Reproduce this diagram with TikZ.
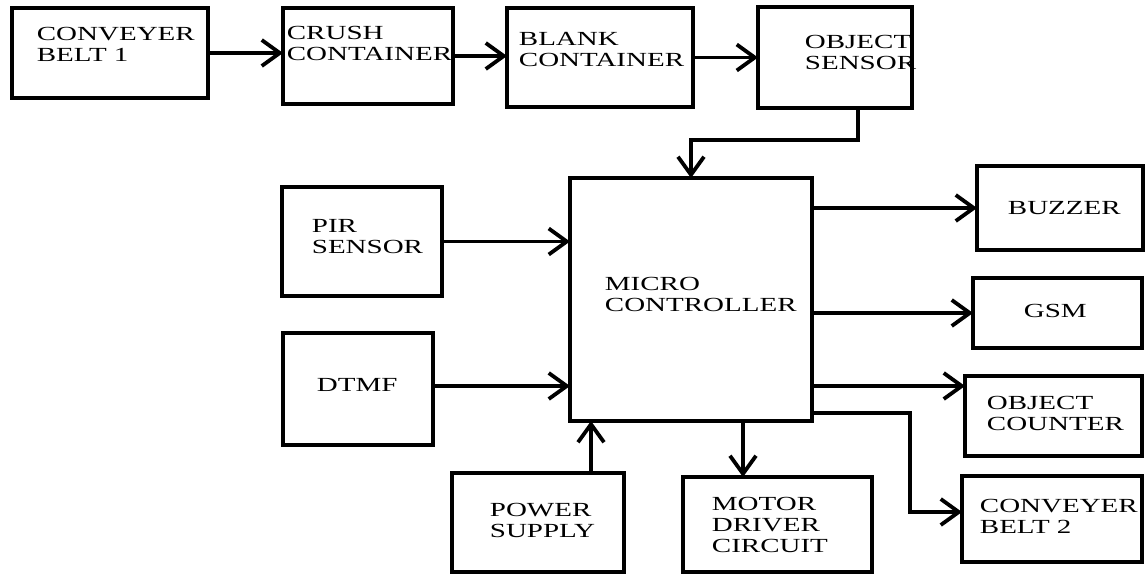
\documentclass[tikz,border=0pt]{standalone}
\usepackage{fontspec}
\setmainfont{Liberation Serif}[FakeStretch=1.45]
\usetikzlibrary{arrows.meta}

\begin{document}
\begin{tikzpicture}[x=1pt, y=-1pt, line width=3.8pt, >={Straight Barb[length=18pt, width=26pt]},
    blk/.style={draw, inner sep=0pt, outer sep=0pt},
    txt/.style={inner sep=0pt, anchor=base west, align=left, font=\fontsize{20}{21}\selectfont}]
    \useasboundingbox (0,0) rectangle (1145,574);
    \node[blk, minimum width=196, minimum height=90] (cbone) at (110,53) {};
    \node[blk, minimum width=170, minimum height=96] (crush) at (368,56) {};
    \node[blk, minimum width=186, minimum height=99] (blank) at (600,57.5) {};
    \node[blk, minimum width=154, minimum height=101] (objsen) at (835,57.5) {};
    \node[blk, minimum width=242, minimum height=243] (mcu) at (691,299.5) {};
    \node[blk, minimum width=160, minimum height=109] (pir) at (362,241.5) {};
    \node[blk, minimum width=150, minimum height=112] (dtmf) at (358,389) {};
    \node[blk, minimum width=172, minimum height=99] (power) at (538,522.5) {};
    \node[blk, minimum width=189, minimum height=95] (motor) at (777.5,524.5) {};
    \node[blk, minimum width=166, minimum height=84] (buzzer) at (1060,208) {};
    \node[blk, minimum width=169, minimum height=70] (gsm) at (1057.5,313) {};
    \node[blk, minimum width=177, minimum height=80] (ocount) at (1053.5,416) {};
    \node[blk, minimum width=180, minimum height=86] (cbtwo) at (1052,519) {};

    \node[txt] (cbonetxt) at (35,61) {CONVEYER\\BELT 1};
    \node[txt] (crushtxt) at (285,60) {CRUSH\\CONTAINER};
    \node[txt] (blanktxt) at (517,66) {BLANK\\CONTAINER};
    \node[txt] (objsentxt) at (803,69) {OBJECT\\SENSOR};
    \node[txt] (mcutxt) at (603,311) {MICRO\\CONTROLLER};
    \node[txt] (pirtxt) at (310,253) {PIR\\SENSOR};
    \node[txt] (dtmftxt) at (315,391) {DTMF};
    \node[txt] (powertxt) at (488,537) {POWER\\SUPPLY};
    \node[txt] (motortxt) at (710,552) {MOTOR\\DRIVER\\CIRCUIT};
    \node[txt] (buzzertxt) at (1006,214) {BUZZER};
    \node[txt] (gsmtxt) at (1022,317) {GSM};
    \node[txt] (ocounttxt) at (985,430) {OBJECT\\COUNTER};
    \node[txt] (cbtwotxt) at (978,533) {CONVEYER\\BELT 2};

    \draw[->] (cbone.east) -- (cbone.east -| crush.west);
    \draw[->] (crush.east) -- (crush.east -| blank.west);
    \draw[->] (blank.east) -- (blank.east -| objsen.west);
    \draw[->] ([xshift=23pt]objsen.south) -- ++(0,32) -| (mcu.north);
    \draw[->] (pir.east) -- (pir.east -| mcu.west);
    \draw[->] ([yshift=3pt]dtmf.east) -- ([yshift=3pt]dtmf.east -| mcu.west);
    \draw[->] ([xshift=53pt]power.north) -- ([xshift=53pt]power.north |- mcu.south);
    \draw[->] ([xshift=52pt]mcu.south) -- ([xshift=52pt]mcu.south |- motor.north);
    \draw[->] (mcu.east |- buzzer.west) -- (buzzer.west);
    \draw[->] (mcu.east |- gsm.west) -- (gsm.west);
    \draw[->] ([yshift=-10pt]mcu.east |- ocount.north) -- ([yshift=-10pt]ocount.north west);
    \draw[->] ([yshift=8pt]mcu.south east) -- ++(98,0) |- ([yshift=7pt]cbtwo.west);
\end{tikzpicture}
\end{document}
